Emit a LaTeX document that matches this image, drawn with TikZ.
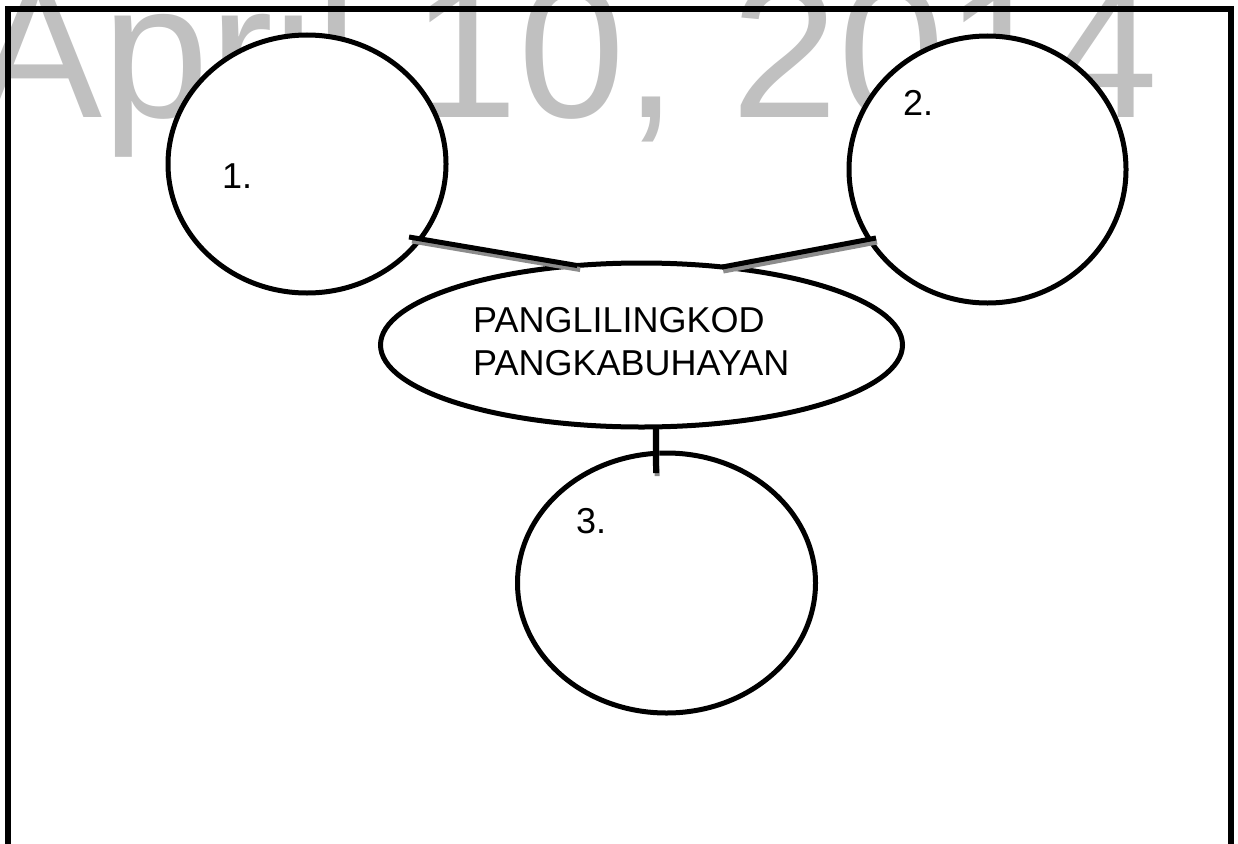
\documentclass[tikz,border=0pt]{standalone}
\usepackage{fontspec}
\setmainfont{Liberation Sans}
\usetikzlibrary{shapes.geometric}
\definecolor{wmgray}{HTML}{C0C0C0}
\definecolor{shadowgray}{HTML}{8C8C8C}
\begin{document}
\begin{tikzpicture}[x=1pt,y=-1pt,
  bubble/.style={draw=black,line width=5pt,fill=white,ellipse,inner sep=0pt,outer sep=0pt},
  lbl/.style={font=\fontsize{36}{43}\selectfont,inner sep=0pt,anchor=base west,text=black,align=left},
  conn/.style={draw=black,line width=5pt},
  shadowline/.style={draw=shadowgray,line width=5pt},
  frameline/.style={draw=black,line width=6pt,line join=miter}]
\useasboundingbox (0,0) rectangle (1238,843);
\clip (0,0) rectangle (1238,843);
% watermark
\node[font=\fontsize{192}{192}\selectfont, text=wmgray, inner sep=0pt, anchor=base west] (wm) at (-26,117) {April 10, 2014};
% frame (open at the bottom)
\draw[frameline] (8,860) -- (8,9) -- (1230.5,9) -- (1230.5,860);
% bubbles
\node[bubble,minimum width=278pt,minimum height=258pt] (c1) at (307,164) {};
\node[bubble,minimum width=277pt,minimum height=267pt] (c2) at (987.5,169.5) {};
\node[bubble,minimum width=298pt,minimum height=260pt] (c3) at (666.5,583) {};
\node[bubble,minimum width=522pt,minimum height=164pt] (mid) at (641.5,345) {};
% connector ends
\coordinate (e1) at (409,237);
\coordinate (e2) at (876,238);
\coordinate (e3) at (656,473);
% shadows
\draw[shadowline] ([shift={(3,4)}]e1) -- ([shift={(3,4)}]mid.129);
\draw[shadowline] ([shift={(1,4)}]e2) -- ([shift={(1,4)}]mid.44);
\draw[shadowline] ([shift={(1,3)}]mid.-80) -- ([shift={(1,3)}]e3);
% connectors
\draw[conn] (e1) -- (mid.129);
\draw[conn] (e2) -- (mid.44);
\draw[conn,line width=6pt] (mid.-80) -- (e3);
% labels
\node[lbl] (t1) at (222,188) {1.};
\node[lbl] (t2) at (903,115) {2.};
\node[lbl] (t3) at (576,533) {3.};
\node[lbl] (tm1) at (473,332) {PANGLILINGKOD};
\node[lbl] (tm2) at (473,375) {PANGKABUHAYAN};
\end{tikzpicture}
\end{document}
